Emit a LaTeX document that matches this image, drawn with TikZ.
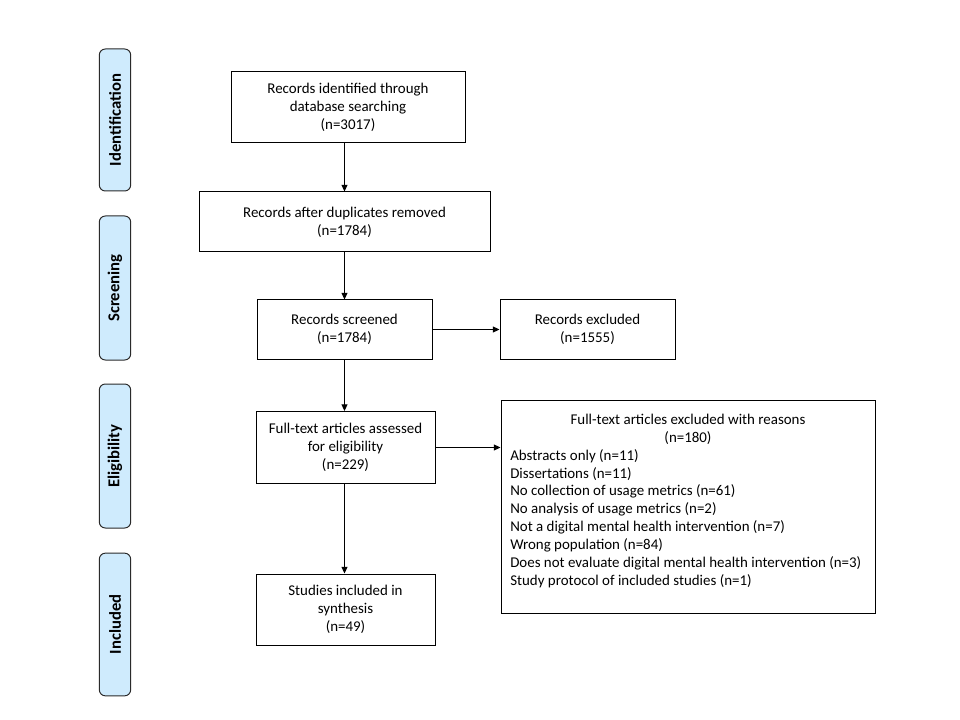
\documentclass[tikz,border=0pt]{standalone}
\usepackage{fontspec}
\setmainfont{Carlito}
\usetikzlibrary{arrows.meta}
\definecolor{sidefill}{HTML}{CFEBFD}
\definecolor{sidedraw}{HTML}{2A2A2A}
\tikzset{
  box/.style={draw=black, line width=0.75pt, fill=white, align=center, inner sep=0pt,
    font=\fontsize{11.2}{13.4}\selectfont},
  side/.style={draw=sidedraw, line width=0.75pt, fill=sidefill, rounded corners=4.5pt,
    inner sep=0pt, minimum height=23.5pt, rotate=90, font=\bfseries\fontsize{12.5}{14}\selectfont},
  arr/.style={line width=0.75pt, -{Triangle[length=5pt,width=4.5pt]}},
}
\begin{document}
\begin{tikzpicture}[x=0.75pt,y=-0.75pt]
\useasboundingbox (0,0) rectangle (960,720);
% side labels
\node[side, minimum width=106.5pt] (sid) at (115,120) {Identification};
\node[side, minimum width=108pt] (sscr) at (115,288) {Screening};
\node[side, minimum width=108pt] (selg) at (115,456) {Eligibility};
\node[side, minimum width=107pt] (sinc) at (115,624.5) {Included};
% main boxes
\node[box, minimum width=175.5pt, minimum height=53.25pt] (b1) at (348,107.5) {Records identified through\\database searching\\(n=3017)};
\node[box, minimum width=218.25pt, minimum height=45pt] (b2) at (344.5,222) {Records after duplicates removed\\(n=1784)};
\node[box, minimum width=131.25pt, minimum height=44.25pt] (b3) at (344.5,329.5) {Records screened\\(n=1784)};
\node[box, minimum width=131.25pt, minimum height=44.25pt] (ex) at (587.5,329.5) {Records excluded\\(n=1555)};
\node[box, minimum width=134.25pt, minimum height=54pt] (b4) at (345.5,447.5) {Full-text articles assessed\\for eligibility\\(n=229)};
\node[box, minimum width=134.25pt, minimum height=53.25pt] (b5) at (345.5,609.5) {Studies included in\\synthesis\\(n=49)};
\node[box, minimum width=280.5pt, minimum height=159.75pt] (ex2) at (688,506.5) {};
\node[align=center, inner sep=0pt, anchor=north, font=\fontsize{11.2}{13.4}\selectfont] (ex2t) at (688,414) {Full-text articles excluded with reasons\\(n=180)};
\node[align=left, inner sep=0pt, anchor=north west, font=\fontsize{11.2}{13.4}\selectfont] (ex2l) at (510,449) {Abstracts only (n=11)\\Dissertations (n=11)\\No collection of usage metrics (n=61)\\No analysis of usage metrics (n=2)\\Not a  digital mental health intervention (n=7)\\Wrong population (n=84)\\Does not evaluate digital mental health intervention (n=3)\\Study protocol of included studies (n=1)};
% connectors
\draw[arr] (b1.south -| b3) -- (b2.north -| b3);
\draw[arr] (b2.south -| b3) -- (b3.north);
\draw[arr] (b3.south) -- (b4.north -| b3);
\draw[arr] (b4.south -| b3) -- (b5.north -| b3);
\draw[arr] (b3.east) -- (ex.west);
\draw[arr] (b4.east) -- (ex2.west |- b4.east);
\end{tikzpicture}
\end{document}
